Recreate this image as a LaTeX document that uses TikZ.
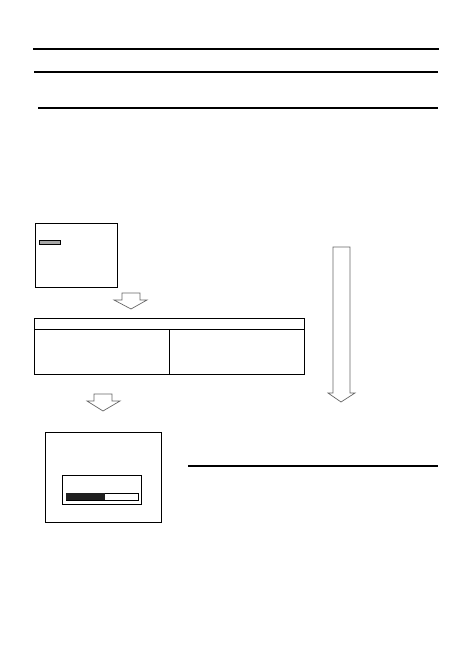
\documentclass[tikz,border=0pt]{standalone}
\begin{document}
\begin{tikzpicture}[x=1pt,y=-1pt,
  rule/.style={line width=1.1pt,black},
  frame/.style={draw=black,line width=0.9pt},
  hollow/.style={draw=black!60,line width=0.7pt,fill=white,line join=miter}]
\useasboundingbox (0,0) rectangle (472,668);
% horizontal rules
\draw[rule] (33,49) -- (439,49);
\draw[rule] (34,72) -- (438,72);
\draw[rule] (38,108) -- (438,108);
\draw[rule] (188,466) -- (438,466);
% screen 1
\draw[frame] (35,223) rectangle (117,287);
\draw[draw=black,line width=0.6pt,fill=black!35] (39,240) rectangle (60,244);
% hollow arrow 1
\draw[hollow] (122,293) -- (140,293) -- (140,300) -- (147,300) -- (131,309) -- (114,300) -- (122,300) -- cycle;
% table
\draw[frame] (34,318) rectangle (304,374);
\draw[frame] (34,329) -- (304,329);
\draw[frame] (169,329) -- (169,374);
% hollow arrow 2
\draw[hollow] (94,394) -- (112,394) -- (112,401) -- (120,401) -- (103,411) -- (87,401) -- (94,401) -- cycle;
% long arrow
\draw[hollow] (333,247) -- (350,247) -- (350,393) -- (355,393) -- (341,402) -- (328,393) -- (333,393) -- cycle;
% screen 2
\draw[frame] (45,432) rectangle (161,522);
\draw[frame] (62,475) rectangle (141,504);
\draw[frame] (66,493) rectangle (138,500);
\fill[black!88] (66,493) rectangle (105,500);
\end{tikzpicture}
\end{document}
